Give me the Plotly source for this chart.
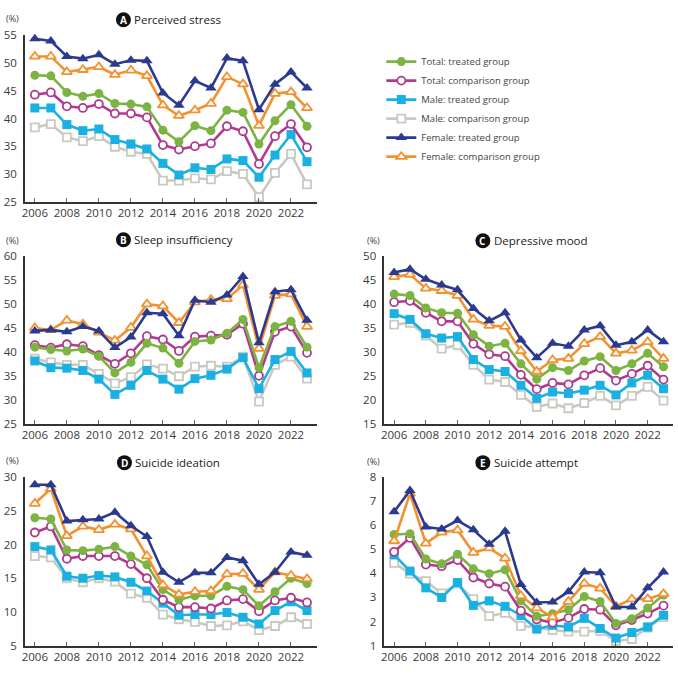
import plotly.graph_objects as go

years = list(range(2006, 2024))

series_names = ["Total: treated group", "Total: comparison group", "Male: treated group",
                "Male: comparison group", "Female: treated group", "Female: comparison group"]

# Panel A: Perceived stress
A_total_t = [47.8, 47.7, 44.7, 44.0, 44.5, 42.7, 42.6, 42.1, 37.9, 35.8, 38.7, 37.8, 41.5, 41.1, 35.4, 39.6, 42.5, 38.6]
A_total_c = [44.3, 44.7, 42.2, 41.9, 42.6, 40.9, 40.9, 40.2, 35.2, 34.4, 35.0, 35.5, 38.6, 37.7, 31.8, 36.8, 39.0, 34.8]
A_male_t = [41.9, 41.9, 38.9, 37.8, 38.1, 36.2, 35.4, 34.5, 31.9, 29.8, 31.1, 30.8, 32.7, 32.4, 29.4, 33.4, 37.1, 32.2]
A_male_c = [38.4, 39.0, 36.6, 35.9, 36.8, 34.9, 34.0, 33.6, 28.8, 28.8, 29.2, 29.0, 30.5, 30.0, 25.8, 30.2, 33.6, 28.1]
A_fem_t = [54.4, 54.0, 51.2, 50.8, 51.5, 49.8, 50.5, 50.4, 44.6, 42.4, 46.8, 45.5, 50.9, 50.4, 41.6, 46.2, 48.4, 45.5]
A_fem_c = [51.2, 51.2, 48.4, 48.8, 49.3, 47.9, 48.7, 47.7, 42.4, 40.5, 41.5, 42.7, 47.5, 46.2, 38.7, 44.5, 44.8, 41.9]

# Panel B: Sleep insufficiency
B_total_t = [41.0, 40.5, 40.2, 40.6, 39.1, 35.6, 37.8, 41.8, 40.8, 37.6, 42.2, 42.5, 43.9, 46.8, 36.7, 45.3, 46.4, 41.0]
B_total_c = [41.4, 40.9, 41.6, 41.2, 39.3, 37.5, 39.7, 43.3, 42.6, 40.2, 43.2, 43.4, 43.6, 45.9, 35.0, 44.2, 45.3, 39.8]
B_male_t = [38.1, 36.7, 36.6, 36.1, 34.3, 31.1, 33.0, 36.1, 34.3, 32.2, 34.4, 35.1, 36.4, 38.8, 32.3, 38.4, 40.1, 35.6]
B_male_c = [38.6, 37.8, 37.3, 37.3, 35.4, 33.4, 34.7, 37.4, 36.5, 34.9, 36.9, 37.1, 36.9, 39.0, 29.6, 37.3, 39.0, 34.4]
B_fem_t = [44.4, 44.6, 44.2, 45.3, 44.4, 40.9, 43.1, 48.2, 48.0, 43.4, 50.8, 50.4, 51.9, 55.8, 41.9, 52.6, 53.0, 46.6]
B_fem_c = [45.0, 44.6, 46.6, 45.8, 44.1, 42.4, 45.1, 50.0, 49.6, 46.1, 50.4, 50.9, 51.1, 54.0, 40.7, 51.8, 52.1, 45.3]

# Panel C: Depressive mood
C_total_t = [42.1, 41.8, 39.2, 38.2, 38.1, 33.6, 31.2, 31.8, 27.5, 24.3, 26.7, 26.1, 28.1, 29.0, 26.1, 27.5, 29.7, 26.9]
C_total_c = [40.4, 40.7, 38.2, 36.4, 36.4, 31.7, 29.5, 29.1, 25.2, 22.2, 23.5, 23.2, 25.1, 26.6, 24.0, 25.4, 27.1, 24.2]
C_male_t = [38.0, 36.8, 33.8, 32.9, 33.2, 28.4, 26.3, 25.9, 23.0, 20.3, 21.6, 21.3, 22.0, 23.0, 21.0, 23.5, 25.1, 22.3]
C_male_c = [35.7, 36.1, 33.4, 30.7, 31.4, 27.3, 24.2, 23.7, 21.0, 18.5, 19.2, 18.2, 19.3, 20.8, 18.8, 20.8, 22.7, 19.8]
C_fem_t = [46.6, 47.3, 45.2, 44.0, 43.0, 39.1, 36.5, 38.2, 32.5, 28.8, 31.8, 31.2, 34.6, 35.5, 31.4, 32.1, 34.6, 32.1]
C_fem_c = [45.7, 46.2, 43.3, 42.8, 41.8, 36.8, 35.5, 35.3, 30.2, 25.9, 28.3, 28.6, 31.7, 33.2, 29.7, 30.3, 32.1, 28.6]

# Panel D: Suicide ideation
D_total_t = [24.0, 23.8, 19.2, 19.1, 19.3, 19.7, 18.3, 17.0, 13.3, 11.8, 12.4, 12.4, 13.8, 13.3, 10.9, 13.0, 15.0, 14.2]
D_total_c = [21.8, 22.7, 17.9, 18.3, 18.3, 18.3, 17.1, 15.0, 11.8, 10.7, 10.7, 10.5, 11.7, 11.9, 10.1, 11.7, 12.1, 11.4]
D_male_t = [19.7, 19.2, 15.3, 15.0, 15.4, 15.2, 14.4, 13.1, 11.3, 9.5, 9.6, 9.6, 9.9, 9.2, 8.2, 10.2, 11.5, 10.2]
D_male_c = [18.3, 18.1, 15.0, 14.4, 15.0, 14.5, 12.7, 12.1, 9.6, 8.9, 8.5, 7.9, 8.0, 8.6, 7.3, 7.9, 9.2, 8.2]
D_fem_t = [28.9, 28.9, 23.5, 23.7, 23.8, 24.8, 22.8, 21.2, 15.9, 14.4, 15.8, 15.8, 18.1, 17.6, 14.1, 15.9, 18.9, 18.4]
D_fem_c = [26.1, 28.3, 21.3, 22.7, 22.2, 23.0, 22.3, 18.3, 14.0, 12.6, 13.0, 13.1, 15.6, 15.7, 13.3, 15.9, 15.4, 14.9]

# Panel E: Suicide attempt
E_total_t = [5.62, 5.65, 4.60, 4.40, 4.80, 4.19, 3.99, 4.15, 2.86, 2.22, 2.32, 2.49, 3.04, 2.83, 1.92, 2.11, 2.56, 3.10]
E_total_c = [4.90, 5.48, 4.37, 4.30, 4.56, 3.83, 3.58, 3.45, 2.45, 2.09, 1.95, 2.15, 2.52, 2.49, 1.84, 2.06, 2.33, 2.66]
E_male_t = [4.78, 4.10, 3.40, 3.00, 3.62, 2.67, 2.86, 2.63, 2.25, 1.68, 1.84, 1.77, 2.13, 1.71, 1.31, 1.54, 1.77, 2.26]
E_male_c = [4.44, 3.99, 3.68, 3.17, 3.58, 2.93, 2.22, 2.36, 1.82, 1.75, 1.64, 1.58, 1.58, 1.61, 1.18, 1.27, 1.75, 2.18]
E_fem_t = [6.57, 7.45, 5.93, 5.85, 6.20, 5.82, 5.21, 5.76, 3.54, 2.79, 2.81, 3.24, 4.06, 4.03, 2.60, 2.60, 3.40, 4.06]
E_fem_c = [5.35, 7.32, 5.25, 5.71, 5.80, 4.87, 5.05, 4.63, 3.07, 2.56, 2.18, 2.83, 3.58, 3.38, 2.63, 2.93, 2.94, 3.15]

panel_titles = ["Perceived stress", "Sleep insufficiency", "Depressive mood", "Suicide ideation", "Suicide attempt"]
panel_letters = ["A", "B", "C", "D", "E"]
y_ranges = [[25, 55], [25, 60], [15, 50], [5, 30], [1, 8]]
y_dticks = [5, 5, 5, 5, 1]

panels = [
    [A_total_t, A_total_c, A_male_t, A_male_c, A_fem_t, A_fem_c],
    [B_total_t, B_total_c, B_male_t, B_male_c, B_fem_t, B_fem_c],
    [C_total_t, C_total_c, C_male_t, C_male_c, C_fem_t, C_fem_c],
    [D_total_t, D_total_c, D_male_t, D_male_c, D_fem_t, D_fem_c],
    [E_total_t, E_total_c, E_male_t, E_male_c, E_fem_t, E_fem_c],
]

colors = ["#7CB342", "#B03A8E", "#1BB0E2", "#C9C9C2", "#2B3A8E", "#F4912E"]
symbols = ["circle", "circle", "square", "square", "triangle-up", "triangle-up"]
filled = [True, False, True, False, True, False]
msizes = [9, 8, 9, 8, 10, 9]
draw_order = [3, 2, 1, 0, 5, 4]

W, H = 678, 675
left_dom = [22 / W, 315 / W]
right_dom = [383 / W, 673 / W]
rowA = [1 - 198 / H, 1 - 28 / H]
rowB = [1 - 425 / H, 1 - 254 / H]
rowD = [1 - 652 / H, 1 - 480 / H]
x_doms = [left_dom, left_dom, right_dom, left_dom, right_dom]
y_doms = [rowA, rowB, rowB, rowD, rowD]

FONT = "Open Sans"
fig = go.Figure()

for p in range(5):
    ax = "" if p == 0 else str(p + 1)
    for i in draw_order:
        fig.add_trace(go.Scatter(
            x=years, y=panels[p][i], mode="lines+markers",
            name=series_names[i],
            legendrank=i + 1,
            showlegend=(p == 0),
            line=dict(color=colors[i], width=2.6),
            marker=dict(symbol=symbols[i], size=msizes[i],
                        color=colors[i] if filled[i] else "white",
                        line=dict(color=colors[i], width=0 if filled[i] else 1.8)),
            cliponaxis=False,
            xaxis="x" + ax, yaxis="y" + ax,
        ))

axis_font = dict(family=FONT, size=11.5, color="#3a3a3a")
layout = dict(
    width=W, height=H, margin=dict(l=0, r=0, t=0, b=0),
    paper_bgcolor="white", plot_bgcolor="white",
    font=dict(family=FONT, color="#3a3a3a"),
    legend=dict(x=380 / W, y=1 - 40 / H, xanchor="left", yanchor="top",
                font=dict(family=FONT, size=9.5, color="#444"),
                itemwidth=30, bgcolor="rgba(0,0,0,0)", tracegroupgap=0),
)
annotations = []
shapes = []
title_pos = [(121, 12), (121, 237), (482, 238), (122, 465), (482, 465)]
pct_pos = [(10, 11), (10, 238), (372, 238), (10, 463), (372, 464)]
for p in range(5):
    ax = "" if p == 0 else str(p + 1)
    layout["xaxis" + ax] = dict(
        domain=x_doms[p], anchor="y" + ax, range=[2005.38, 2023.6],
        tickmode="linear", tick0=2006, dtick=2, ticks="inside", ticklen=4,
        tickcolor="#666", tickwidth=1, showline=True, linecolor="#333", linewidth=1.5,
        showgrid=False, zeroline=False, tickfont=axis_font,
    )
    layout["yaxis" + ax] = dict(
        domain=y_doms[p], anchor="x" + ax, range=y_ranges[p],
        tickmode="linear", tick0=y_ranges[p][0], dtick=y_dticks[p], ticks="",
        showline=True, linecolor="#333", linewidth=1.5,
        showgrid=False, zeroline=False, tickfont=axis_font, ticklabelstandoff=4,
    )
    cx, cy = title_pos[p]
    shapes.append(dict(type="circle", xref="paper", yref="paper",
                       xsizemode="pixel", ysizemode="pixel",
                       xanchor=cx / W, yanchor=1 - cy / H,
                       x0=-7.5, x1=7.5, y0=-7.5, y1=7.5,
                       fillcolor="#111", line=dict(width=0)))
    annotations.append(dict(x=cx / W, y=1 - cy / H, xref="paper", yref="paper",
                            text="<b>" + panel_letters[p] + "</b>", showarrow=False,
                            font=dict(family=FONT, size=10, color="white"),
                            xanchor="center", yanchor="middle"))
    annotations.append(dict(x=(cx + 9) / W, y=1 - cy / H, xref="paper", yref="paper",
                            text=panel_titles[p], showarrow=False,
                            font=dict(family=FONT, size=11.5, color="#222"),
                            xanchor="left", yanchor="middle"))
    px_, py_ = pct_pos[p]
    annotations.append(dict(x=px_ / W, y=1 - py_ / H, xref="paper", yref="paper",
                            text="(%)", showarrow=False,
                            font=dict(family=FONT, size=9, color="#444"),
                            xanchor="center", yanchor="middle"))
layout["annotations"] = annotations
layout["shapes"] = shapes
fig.update_layout(**layout)
fig.write_html("out.html")
